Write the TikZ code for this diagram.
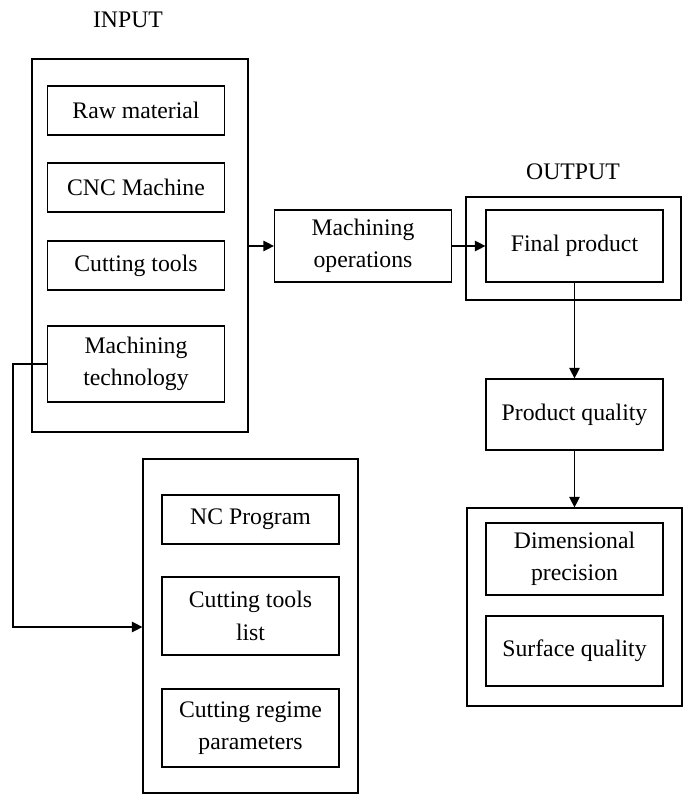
\documentclass[tikz,border=0pt]{standalone}
\usepackage{fontspec}
\setmainfont{Liberation Serif}
\usepackage{tikz}
\usetikzlibrary{arrows.meta,positioning,calc}

\begin{document}
\begin{tikzpicture}[x=0.02cm, y=-0.02cm, font=\fontsize{13.5}{18.5}\selectfont,
  box/.style={draw, line width=0.7pt, align=center, inner sep=0pt, minimum width=3.54cm, minimum height=0.98cm},
  frame/.style={draw, line width=0.7pt, inner sep=0pt},
  arr/.style={-{Triangle[length=2.1mm, width=2.1mm]}, line width=0.7pt}]
\useasboundingbox (0,0) rectangle (685,794);
% input side
\node at (128,20) (inlbl) {INPUT};
\node[frame, minimum width=4.32cm, minimum height=7.46cm] at (140,245.5) (inp) {};
\node[box] at (136,110.5) (raw) {Raw material};
\node[box] at (136,187.5) (cnc) {CNC Machine};
\node[box] at (136,265.5) (tools) {Cutting tools};
\node[box, minimum height=1.52cm] at (136,364) (mtech) {Machining\\technology};
% technological documents
\node[frame, minimum width=4.3cm, minimum height=6.68cm] at (250.5,626) (docs) {};
\node[box] at (250.5,519.5) (prog) {NC Program};
\node[box, minimum height=1.56cm] at (250.5,616) (tlist) {Cutting tools\\list};
\node[box, minimum height=1.56cm] at (250.5,728) (regime) {Cutting regime\\parameters};
% process
\node[box, minimum height=1.44cm] at (363,246) (mops) {Machining\\operations};
% output side
\node at (573,172) (outlbl) {OUTPUT};
\node[frame, minimum width=4.3cm, minimum height=2.06cm] at (573.5,248.5) (outp) {};
\node[box, minimum height=1.44cm] at (574.5,246) (final) {Final product};
\node[box, minimum height=1.42cm] at (574.5,414.5) (pq) {Product quality};
\node[frame, minimum width=4.3cm, minimum height=3.96cm] at (574.5,607) (qual) {};
\node[box, minimum height=1.44cm] at (574.5,559) (dim) {Dimensional\\precision};
\node[box, minimum height=1.4cm] at (574.5,651) (surf) {Surface quality};
\coordinate (bend) at (13,627);
% connectors
\draw[arr] (inp.east |- mops) -- (mops);
\draw[arr] (mops) -- (final);
\draw[arr] (final) -- (pq);
\draw[arr] (pq) -- (qual);
\draw[arr] (mtech.west) -| (bend) -- (docs.west |- bend);
\end{tikzpicture}
\end{document}
